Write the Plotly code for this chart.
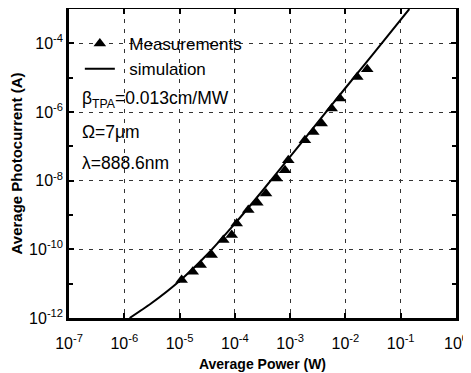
import plotly.graph_objects as go

meas_power = [1.09e-5, 1.73e-5, 2.41e-5, 3.81e-5, 6.18e-5, 8.77e-5, 1.08e-4, 1.75e-4,
              2.55e-4, 3.66e-4, 5.71e-4, 8.07e-4, 9.25e-4, 1.85e-3, 2.62e-3, 3.72e-3,
              5.64e-3, 7.96e-3, 1.64e-2, 2.48e-2]
meas_current = [1.27e-11, 2.22e-11, 3.48e-11, 6.81e-11, 1.86e-10, 2.60e-10, 5.69e-10, 1.39e-9,
                2.26e-9, 4.25e-9, 1.16e-8, 2.02e-8, 3.94e-8, 1.51e-7, 2.63e-7, 4.61e-7,
                1.26e-6, 2.46e-6, 1.05e-5, 1.75e-5]

# Simulation curve
sim_power = [1.25e-6, 3e-6, 1e-5, 3e-5, 1e-4, 3e-4, 1e-3, 3e-3, 1e-2, 3e-2, 1.43e-1]
sim_current = [1.0e-12, 2.6e-12, 1.2e-11, 6.5e-11, 5.6e-10, 4.6e-9, 5.0e-8, 4.5e-7, 5.0e-6, 4.4e-5, 1.0e-3]

x_tickvals = [1e-7, 1e-6, 1e-5, 1e-4, 1e-3, 1e-2, 1e-1, 1e0]
x_ticktext = ["10<sup>-7</sup>", "10<sup>-6</sup>", "10<sup>-5</sup>", "10<sup>-4</sup>",
              "10<sup>-3</sup>", "10<sup>-2</sup>", "10<sup>-1</sup>", "10<sup>0</sup>"]
y_tickvals = [1e-12, 1e-10, 1e-8, 1e-6, 1e-4]
y_ticktext = ["10<sup>-12</sup>", "10<sup>-10</sup>", "10<sup>-8</sup>", "10<sup>-6</sup>", "10<sup>-4</sup>"]
y_minorvals = [1e-11, 1e-9, 1e-7, 1e-5, 1e-3]

FONT = "Liberation Sans, Arial, sans-serif"
NB = "\u00a0"

fig = go.Figure()
fig.add_trace(go.Scatter(
    x=meas_power, y=meas_current, mode="markers", name=NB * 2 + "Measurements",
    marker=dict(symbol="triangle-up", size=11, color="black"),
))
fig.add_trace(go.Scatter(
    x=sim_power, y=sim_current, mode="lines", name=NB * 2 + "simulation",
    line=dict(color="black", width=2, shape="spline", smoothing=0.6),
))

axis_common = dict(
    showline=True, linecolor="black", linewidth=2.5, mirror="ticks",
    ticks="inside", ticklen=5, tickwidth=1.5, tickcolor="black",
    showgrid=True, gridcolor="#333333", gridwidth=1, griddash="4px,6px",
    zeroline=False, tickfont=dict(family=FONT, size=16, color="black"),
    automargin=False,
)

fig.update_xaxes(
    type="log", range=[-7, 0], tickmode="array", tickvals=x_tickvals, ticktext=x_ticktext,
    ticklabelstandoff=9,
    title=dict(text="<b>Average Power (W)</b>", font=dict(family=FONT, size=14, color="black"), standoff=9),
    **axis_common,
)
fig.update_yaxes(
    type="log", range=[-12, -3], tickmode="array", tickvals=y_tickvals, ticktext=y_ticktext,
    title=dict(text="<b>Average Photocurrent (A)</b>", font=dict(family=FONT, size=15, color="black"), standoff=4),
    minor=dict(tickmode="array", tickvals=y_minorvals, ticks="inside", ticklen=4, tickcolor="black", showgrid=False),
    **axis_common,
)

ann_font = dict(family=FONT, size=17.5, color="black")
fig.add_annotation(xref="paper", yref="paper", x=0.028, y=0.706, xanchor="left", yanchor="middle",
                   text="β<sub>TPA</sub>=0.013cm/MW", showarrow=False, font=ann_font)
fig.add_annotation(xref="paper", yref="paper", x=0.028, y=0.602, xanchor="left", yanchor="middle",
                   text="Ω=7μm", showarrow=False, font=ann_font)
fig.add_annotation(xref="paper", yref="paper", x=0.028, y=0.502, xanchor="left", yanchor="middle",
                   text="λ=888.6nm", showarrow=False, font=ann_font)

# The page body adds an 8px offset, so the figure is 8px smaller and margins compensate.
fig.update_layout(
    width=463, height=365,
    margin=dict(l=61, r=15, t=1, b=55),
    paper_bgcolor="white", plot_bgcolor="white",
    showlegend=True,
    legend=dict(x=0.028, y=0.945, xanchor="left", yanchor="top", bgcolor="rgba(0,0,0,0)",
                font=dict(family=FONT, size=17, color="black"), tracegroupgap=0),
)

fig.write_html("out.html")
